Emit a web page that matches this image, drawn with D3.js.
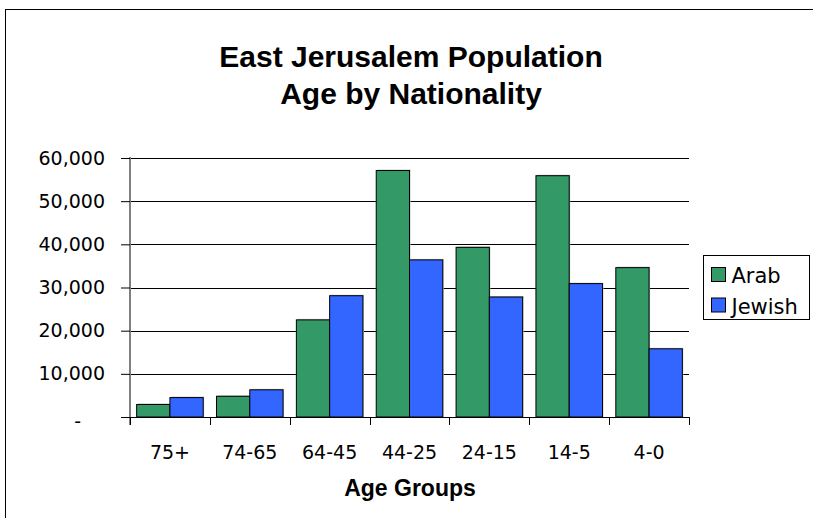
<!DOCTYPE html>
<html>
<head>
<meta charset="utf-8">
<script src="https://cdn.jsdelivr.net/npm/d3@7"></script>
<style>
  html, body { margin: 0; padding: 0; background: #fff; }
  svg { display: block; font-family: "DejaVu Sans", sans-serif; }
</style>
</head>
<body>
<svg id="chart" width="813" height="518"></svg>
<script>
// Age groups, oldest to youngest
const categories = ["75+", "74-65", "64-45", "44-25", "24-15", "14-5", "4-0"];
const seriesNames = ["Arab", "Jewish"];
const arabValues   = [2900, 4800, 22500, 57100, 39300, 55900, 34600];
const jewishValues = [4500, 6300, 28100, 36400, 27800, 30900, 15800];
const yTicks = [0, 10000, 20000, 30000, 40000, 50000, 60000];
const colors = ["#339966", "#3366FF"];

const series = [arabValues, jewishValues];
const rows = categories.map((c, i) => ({
  category: c,
  values: seriesNames.map((name, s) => ({ name, value: series[s][i], color: colors[s] }))
}));

const svg = d3.select("#chart");
const plot = { left: 130, right: 689, top: 158, bottom: 417 };
const labelFont = "DejaVu Sans, sans-serif";
const titleFont = "Liberation Sans, Arial, sans-serif";

// Chart frame
svg.append("rect")
  .attr("x", 5.5).attr("y", 9.5)
  .attr("width", 830).attr("height", 530)
  .attr("fill", "none").attr("stroke", "#000").attr("stroke-width", 1);

// Title
const title = svg.append("text")
  .attr("text-anchor", "middle")
  .attr("font-family", titleFont)
  .attr("font-weight", "bold")
  .attr("font-size", 30)
  .attr("fill", "#000");
title.append("tspan").attr("x", 411).attr("y", 67).text("East Jerusalem Population");
title.append("tspan").attr("x", 411).attr("y", 104).text("Age by Nationality");

const x0 = d3.scaleBand()
  .domain(categories)
  .range([plot.left, plot.right])
  .paddingInner(0.1667)
  .paddingOuter(0.0833);

const x1 = d3.scaleBand()
  .domain(seriesNames)
  .range([0, x0.bandwidth()]);

const y = d3.scaleLinear()
  .domain([0, 60000])
  .range([plot.bottom, plot.top]);

// Horizontal gridlines
svg.append("g")
  .selectAll("line")
  .data(yTicks.filter(t => t > 0))
  .join("line")
  .attr("x1", plot.left).attr("x2", plot.right)
  .attr("y1", d => Math.round(y(d)) + 0.5).attr("y2", d => Math.round(y(d)) + 0.5)
  .attr("stroke", "#000").attr("stroke-width", 1);

// Bars
const groups = svg.append("g")
  .selectAll("g")
  .data(rows)
  .join("g")
  .attr("transform", d => `translate(${x0(d.category)},0)`);

// soft grey edge around each bar
groups.selectAll("rect.shade")
  .data(d => d.values)
  .join("rect")
  .attr("class", "shade")
  .attr("x", d => x1(d.name) + 1)
  .attr("y", d => y(d.value) - 1)
  .attr("width", x1.bandwidth())
  .attr("height", d => plot.bottom - y(d.value) + 1)
  .attr("fill", "#c8c8c8");

groups.selectAll("rect.bar")
  .data(d => d.values)
  .join("rect")
  .attr("class", "bar")
  .attr("x", d => x1(d.name))
  .attr("y", d => y(d.value))
  .attr("width", x1.bandwidth())
  .attr("height", d => plot.bottom - y(d.value))
  .attr("fill", d => d.color)
  .attr("stroke", "#000")
  .attr("stroke-width", 1);

// Y axis
const yAxis = d3.axisLeft(y)
  .tickValues(yTicks)
  .tickSize(9)
  .tickPadding(16)
  .tickFormat(d => d === 0 ? "" : d3.format(",")(d));
const yg = svg.append("g")
  .attr("transform", `translate(${plot.left},0)`)
  .call(yAxis);
yg.select(".domain").attr("stroke", "#7f7f7f").attr("stroke-width", 2)
  .attr("d", `M0,${plot.top - 1}V${plot.bottom + 8}`);
yg.selectAll(".tick line").attr("stroke", "#000");
yg.selectAll(".tick text")
  .attr("font-size", 19).attr("fill", "#000")
  .attr("font-family", labelFont);
// zero shown as a dash
svg.append("text")
  .attr("x", 81).attr("y", y(0) + 11)
  .attr("text-anchor", "end")
  .attr("font-family", labelFont)
  .attr("font-size", 19)
  .text("-");

// X axis
const xAxis = d3.axisBottom(x0).tickSize(0).tickPadding(29);
const xg = svg.append("g")
  .attr("transform", `translate(0,${plot.bottom})`)
  .call(xAxis);
xg.select(".domain").remove();
xg.selectAll(".tick text")
  .attr("font-size", 19).attr("fill", "#000")
  .attr("font-family", labelFont);

svg.append("line")
  .attr("x1", plot.left).attr("x2", plot.right)
  .attr("y1", plot.bottom + 0.5).attr("y2", plot.bottom + 0.5)
  .attr("stroke", "#000");

// boundary ticks between groups
const bounds = categories.map(c => x0(c) - x0.step() * x0.paddingInner() / 2).concat([plot.right]);
svg.append("g")
  .selectAll("line")
  .data(bounds)
  .join("line")
  .attr("x1", d => Math.round(d) + 0.5).attr("x2", d => Math.round(d) + 0.5)
  .attr("y1", plot.bottom).attr("y2", plot.bottom + 8)
  .attr("stroke", "#000");

// X axis title
svg.append("text")
  .attr("x", 410).attr("y", 496)
  .attr("text-anchor", "middle")
  .attr("font-family", titleFont)
  .attr("font-weight", "bold")
  .attr("font-size", 23)
  .text("Age Groups");

// Legend
const legend = svg.append("g");
legend.append("rect")
  .attr("x", 703.5).attr("y", 255.5)
  .attr("width", 106).attr("height", 64)
  .attr("fill", "#fff").attr("stroke", "#000");
const items = legend.selectAll("g")
  .data(seriesNames)
  .join("g")
  .attr("transform", (d, i) => `translate(711.5,${267.5 + i * 30.5})`);
items.append("rect")
  .attr("width", 14).attr("height", 14)
  .attr("fill", (d, i) => colors[i])
  .attr("stroke", "#000");
items.append("text")
  .attr("x", 20).attr("y", 15.5)
  .attr("font-family", labelFont)
  .attr("font-size", 21)
  .text(d => d);
</script>
</body>
</html>
